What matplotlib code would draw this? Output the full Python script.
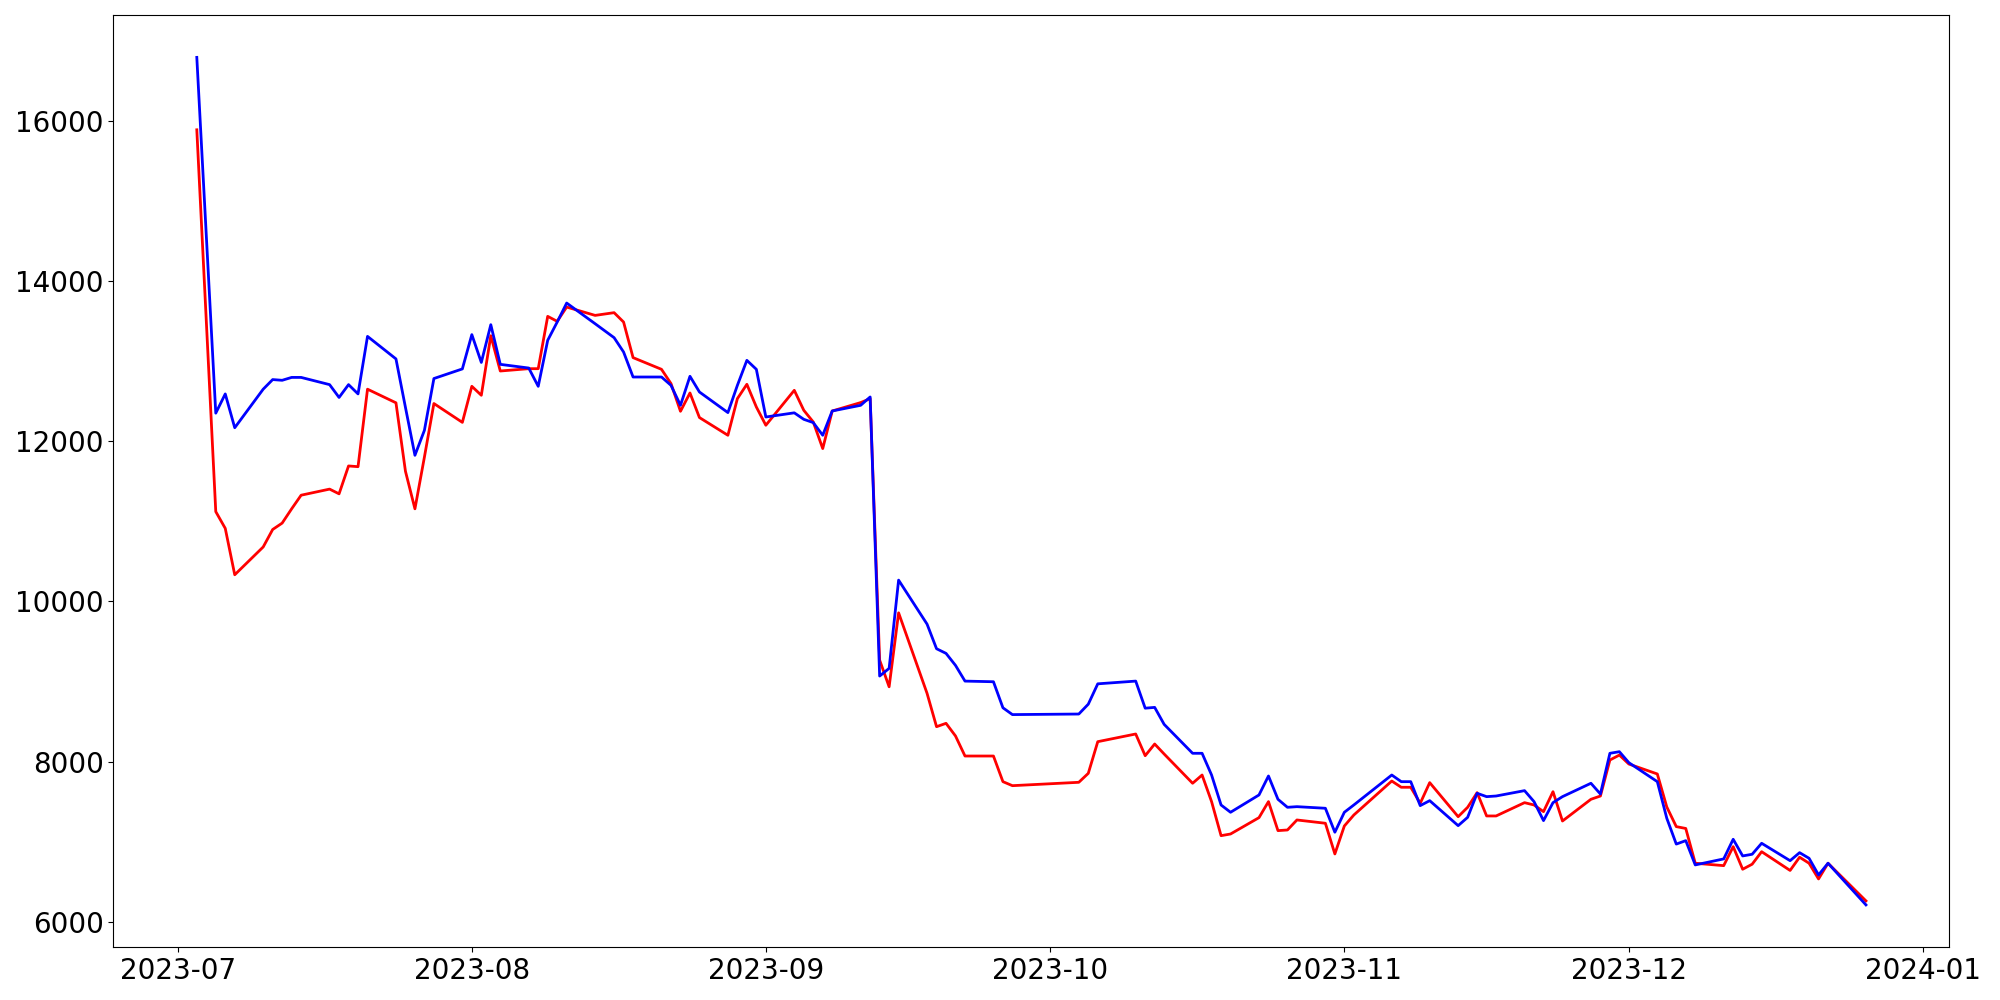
import pandas as pd
import matplotlib
matplotlib.use('Agg')
import matplotlib.pyplot as plt

dates = [
    '2023-07-03', '2023-07-05', '2023-07-06', '2023-07-07', '2023-07-10', '2023-07-11', '2023-07-12',
    '2023-07-13', '2023-07-14', '2023-07-17', '2023-07-18', '2023-07-19', '2023-07-20', '2023-07-21',
    '2023-07-24', '2023-07-25', '2023-07-26', '2023-07-27', '2023-07-28', '2023-07-31',
    '2023-08-01', '2023-08-02', '2023-08-03', '2023-08-04', '2023-08-07', '2023-08-08', '2023-08-09',
    '2023-08-10', '2023-08-11', '2023-08-14', '2023-08-15', '2023-08-16', '2023-08-17', '2023-08-18',
    '2023-08-21', '2023-08-22', '2023-08-23', '2023-08-24', '2023-08-25', '2023-08-28', '2023-08-29',
    '2023-08-30', '2023-08-31',
    '2023-09-01', '2023-09-04', '2023-09-05', '2023-09-06', '2023-09-07', '2023-09-08', '2023-09-11',
    '2023-09-12', '2023-09-13', '2023-09-14', '2023-09-15', '2023-09-18', '2023-09-19', '2023-09-20',
    '2023-09-21', '2023-09-22', '2023-09-25', '2023-09-26', '2023-09-27',
    '2023-10-04', '2023-10-05', '2023-10-06', '2023-10-10', '2023-10-11', '2023-10-12', '2023-10-13',
    '2023-10-16', '2023-10-17', '2023-10-18', '2023-10-19', '2023-10-20', '2023-10-23', '2023-10-24',
    '2023-10-25', '2023-10-26', '2023-10-27', '2023-10-30', '2023-10-31',
    '2023-11-01', '2023-11-02', '2023-11-06', '2023-11-07', '2023-11-08', '2023-11-09', '2023-11-10',
    '2023-11-13', '2023-11-14', '2023-11-15', '2023-11-16', '2023-11-17', '2023-11-20', '2023-11-21',
    '2023-11-22', '2023-11-23', '2023-11-24', '2023-11-27', '2023-11-28', '2023-11-29', '2023-11-30',
    '2023-12-01', '2023-12-04', '2023-12-05', '2023-12-06', '2023-12-07', '2023-12-08', '2023-12-11',
    '2023-12-12', '2023-12-13', '2023-12-14', '2023-12-15', '2023-12-18', '2023-12-19', '2023-12-20',
    '2023-12-21', '2023-12-22', '2023-12-26',
]

# serie vermelha
red_values = [
    15884, 11119, 10910, 10331, 10678, 10896, 10976, 11154, 11324, 11400, 11341, 11689, 11680, 12647,
    12477, 11623, 11154, 11800, 12468, 12233,
    12683, 12571, 13314, 12874, 12903, 12903, 13556, 13494, 13672, 13568, 13585, 13602, 13485, 13041,
    12895, 12717, 12371, 12600, 12293, 12072, 12529, 12708, 12425,
    12197, 12633, 12384, 12238, 11906, 12375, 12480, 12529, 9266, 8933, 9856, 8851, 8435, 8477,
    8319, 8069, 8069, 7749, 7699,
    7741, 7853, 8248, 8344, 8073, 8219, 8094, 7729, 7832, 7500, 7075, 7096, 7300, 7500,
    7138, 7146, 7271, 7230, 6847,
    7196, 7333, 7757, 7679, 7679, 7479, 7737, 7312, 7429, 7612, 7321, 7321, 7487, 7458,
    7375, 7624, 7258, 7529, 7570, 8019, 8081,
    7969, 7845, 7433, 7188, 7165, 6731, 6701, 6938, 6656, 6719, 6875, 6641, 6806, 6731,
    6535, 6731, 6261,
]

# serie azul
blue_values = [
    16788, 12348, 12588, 12166, 12647, 12767, 12758, 12794, 12794, 12704, 12544, 12704, 12588, 13306,
    13025, 12420, 11822, 12134, 12780, 12900,
    13328, 12981, 13452, 12957, 12911, 12683, 13257, 13485, 13722, 13464, 13377, 13290, 13111, 12799,
    12799, 12695, 12446, 12808, 12612, 12355, 12695, 13007, 12895,
    12300, 12352, 12271, 12230, 12072, 12375, 12446, 12550, 9067, 9163, 10264, 9715, 9408, 9350,
    9200, 9004, 8996, 8671, 8586,
    8593, 8716, 8970, 9004, 8666, 8676, 8464, 8103, 8103, 7832, 7458, 7367, 7583, 7820,
    7529, 7429, 7437, 7417, 7118,
    7367, 7458, 7832, 7749, 7749, 7450, 7512, 7200, 7304, 7604, 7562, 7570, 7637, 7500,
    7263, 7487, 7562, 7729, 7595, 8103, 8123,
    7986, 7749, 7292, 6970, 7013, 6710, 6785, 7030, 6822, 6843, 6980, 6763, 6863, 6793,
    6585, 6731, 6211,
]

x = pd.to_datetime(dates)

fig, ax = plt.subplots(figsize=(20, 10), dpi=100)
ax.plot(x, red_values, color='red', linewidth=2)
ax.plot(x, blue_values, color='blue', linewidth=2)
ax.tick_params(axis='both', labelsize=20)
plt.tight_layout()
plt.savefig('out.png')
